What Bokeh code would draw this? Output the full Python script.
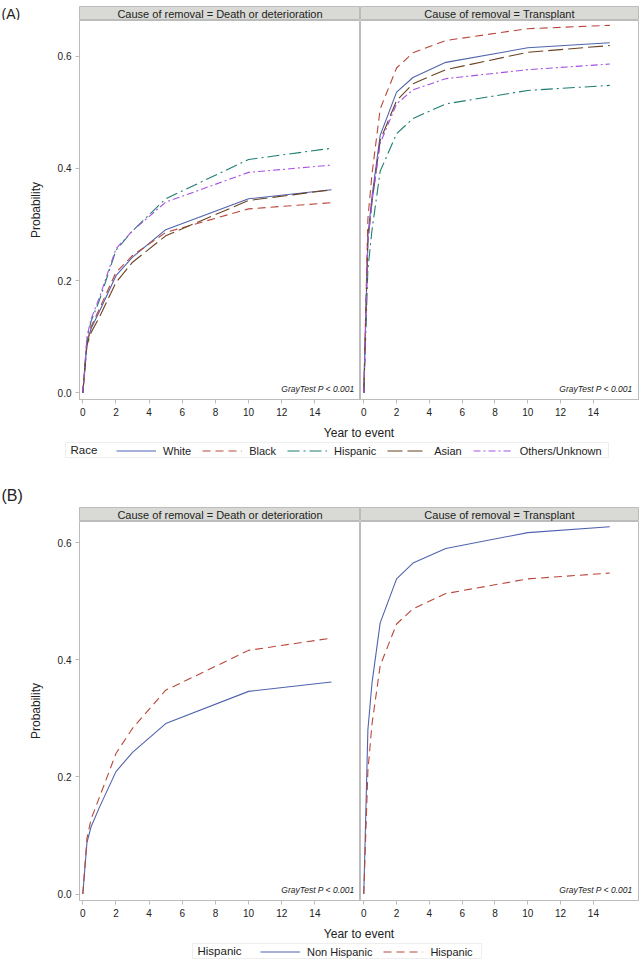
from bokeh.plotting import figure
from bokeh.models import (Range1d, FixedTicker, PrintfTickFormatter, Label, Legend,
                          LegendItem, BoxAnnotation)
from bokeh.layouts import column, row
from bokeh.embed import file_html
from bokeh.resources import INLINE

FONT = "Liberation Sans"
TXT = "#222222"
GRID = "#bcbcbc"
HEAD = "#d9dad5"
NAN = float("nan")

# ---------------- data ----------------
years = [0, 0.25, 0.5, 1, 2, 3, 5, 10, 15]
x_ticks = [0, 2, 4, 6, 8, 10, 12, 14]
y_ticks = [0.0, 0.2, 0.4, 0.6]
panel_titles = ["Cause of removal = Death or deterioration", "Cause of removal = Transplant"]
gray_test = "GrayTest P < 0.001"

race_names = ["White", "Black", "Hispanic", "Asian", "Others/Unknown"]
race_death_white = [0, 0.088, 0.115, 0.145, 0.209, 0.242, 0.291, 0.346, 0.362]
race_death_black = [0, 0.090, 0.118, 0.150, 0.215, 0.245, 0.286, 0.328, 0.339]
race_death_hispanic = [0, 0.095, 0.128, 0.165, 0.254, 0.289, 0.346, 0.416, 0.436]
race_death_asian = [0, 0.085, 0.108, 0.135, 0.197, 0.233, 0.280, 0.343, 0.362]
race_death_others = [0, 0.100, 0.132, 0.170, 0.257, 0.289, 0.340, 0.393, 0.406]

race_tx_white = [0, 0.28, 0.35, 0.459, 0.536, 0.562, 0.589, 0.615, 0.624]
race_tx_black = [0, 0.31, 0.39, 0.506, 0.579, 0.606, 0.628, 0.649, 0.655]
race_tx_hispanic = [0, 0.22, 0.29, 0.395, 0.462, 0.489, 0.515, 0.539, 0.548]
race_tx_asian = [0, 0.27, 0.34, 0.450, 0.521, 0.551, 0.576, 0.607, 0.619]
race_tx_others = [0, 0.27, 0.34, 0.445, 0.515, 0.540, 0.560, 0.576, 0.586]

hisp_names = ["Non Hispanic", "Hispanic"]
hisp_death_non = [0, 0.088, 0.115, 0.148, 0.209, 0.242, 0.291, 0.346, 0.362]
hisp_death_yes = [0, 0.095, 0.128, 0.165, 0.240, 0.283, 0.348, 0.416, 0.437]
hisp_tx_non = [0, 0.28, 0.36, 0.463, 0.538, 0.565, 0.590, 0.617, 0.627]
hisp_tx_yes = [0, 0.21, 0.29, 0.390, 0.461, 0.487, 0.513, 0.538, 0.548]

# styles
race_colors = ["#5063ad", "#b9463b", "#1e7d72", "#6b4221", "#a552e4"]
race_dashes = ["solid", "8 5", "12 4 2 4", "15 5", "7 3 2 3"]
hisp_colors = ["#5063ad", "#b9463b"]
hisp_dashes = ["solid", "8 5"]

X_RANGE = (-0.2, 16.75)
YR_A = (-0.0116, 0.6636)
YR_B = (-0.011, 0.636)
LEFT = 79


def deco(w, h, bg="white"):
    p = figure(width=w, height=h, x_range=Range1d(0, w), y_range=Range1d(0, h),
               x_axis_type=None, y_axis_type=None, toolbar_location=None,
               output_backend="svg", min_border=0)
    p.outline_line_color = None
    p.background_fill_color = bg
    p.border_fill_color = "white"
    return p


def header(w, h, text, top=0, right=0):
    p = figure(width=w, height=h, x_range=Range1d(0, 1), y_range=Range1d(0, 1),
               x_axis_type=None, y_axis_type=None, toolbar_location=None,
               output_backend="svg", min_border=0)
    p.min_border_top = top
    p.min_border_right = right
    p.background_fill_color = HEAD
    p.border_fill_color = "white"
    p.outline_line_color = GRID
    p.add_layout(Label(x=0.5, y=0.5, text=text, text_align="center", text_baseline="middle",
                       text_font=FONT, text_font_size="11px", text_color=TXT))
    return p


def panel(w, frame_h, yr, series, colors, dashes, left_axis, right=0):
    p = figure(width=w, height=frame_h + 24, x_range=Range1d(*X_RANGE), y_range=Range1d(*yr),
               toolbar_location=None, output_backend="svg", min_border=0,
               y_axis_type="linear" if left_axis else None)
    p.min_border_left = LEFT if left_axis else 0
    p.min_border_right = right
    p.min_border_bottom = 24
    p.min_border_top = 0
    p.background_fill_color = "white"
    p.border_fill_color = "white"
    p.outline_line_color = GRID
    p.xgrid.visible = False
    p.ygrid.visible = False
    axes = [p.xaxis[0]] + ([p.yaxis[0]] if left_axis else [])
    for ax in axes:
        ax.axis_line_color = GRID
        ax.major_tick_line_color = GRID
        ax.minor_tick_line_color = None
        ax.major_tick_in = 0
        ax.major_tick_out = 4
        ax.major_label_text_font = FONT
        ax.major_label_text_font_size = "10px"
        ax.major_label_text_color = TXT
        ax.major_label_standoff = 4
    p.xaxis.ticker = FixedTicker(ticks=x_ticks)
    if left_axis:
        p.yaxis.ticker = FixedTicker(ticks=y_ticks)
        p.yaxis.formatter = PrintfTickFormatter(format="%.1f")
        p.yaxis.axis_label = "Probability"
        p.yaxis.axis_label_text_font = FONT
        p.yaxis.axis_label_text_font_size = "12px"
        p.yaxis.axis_label_text_font_style = "normal"
        p.yaxis.axis_label_text_color = TXT
        p.yaxis.axis_label_standoff = 12
    for vals, c, d in zip(series, colors, dashes):
        p.line(years, vals, line_color=c, line_width=1.1, line_dash=d)
    ppu = frame_h / (yr[1] - yr[0])
    p.add_layout(Label(x=X_RANGE[1], y=yr[0] + 11 / ppu, x_offset=-6, text=gray_test,
                       text_align="right", text_baseline="middle", text_font=FONT,
                       text_font_size="8.5px", text_font_style="italic", text_color=TXT))
    return p


def footer(title, names, colors, dashes, box_l, box_r, title_x, leg_x):
    p = deco(641, 37)
    p.add_layout(Label(x=358.5, y=28, text="Year to event", text_align="center",
                       text_baseline="middle", text_font=FONT, text_font_size="12px",
                       text_color=TXT))
    p.add_layout(BoxAnnotation(left=box_l, right=box_r, bottom=3, top=18, fill_alpha=0,
                               line_color="#c8c8c8", line_width=1))
    p.add_layout(Label(x=title_x, y=10.5, text=title, text_align="left", text_baseline="middle",
                       text_font=FONT, text_font_size="11.5px", text_color=TXT))
    items = []
    for n, c, d in zip(names, colors, dashes):
        # legend-only renderer: NaN values draw nothing, the legend shows its style
        r = p.line([NAN, NAN], [NAN, NAN], line_color=c, line_width=1.1, line_dash=d)
        items.append(LegendItem(label=n, renderers=[r]))
    leg = Legend(items=items, orientation="horizontal", location=(leg_x, 3), padding=1,
                 spacing=11, glyph_width=40, glyph_height=13, label_height=13,
                 label_standoff=7, label_text_font=FONT, label_text_font_size="11px",
                 label_text_color=TXT, label_text_baseline="middle",
                 border_line_color=None, background_fill_alpha=0, margin=0)
    p.add_layout(leg, "center")
    return p


# ---------------- group A ----------------
labA = deco(LEFT, 20)
labA.add_layout(Label(x=1, y=10, text="(A)", text_align="left", text_baseline="middle",
                      text_font=FONT, text_font_size="14px", text_color=TXT))
hA1 = header(281, 20, panel_titles[0], top=6)
hA2 = header(281, 20, panel_titles[1], top=6, right=3)
pA1 = panel(LEFT + 281, 379, YR_A,
            [race_death_white, race_death_black, race_death_hispanic, race_death_asian, race_death_others],
            race_colors, race_dashes, True)
pA2 = panel(281, 379, YR_A,
            [race_tx_white, race_tx_black, race_tx_hispanic, race_tx_asian, race_tx_others],
            race_colors, race_dashes, False, right=3)
fA = footer("Race", race_names, race_colors, race_dashes, 65, 608, 70, 116)

# ---------------- group B ----------------
labB = deco(641, 47)
labB.add_layout(Label(x=1, y=12, text="(B)", text_align="left", text_baseline="middle",
                      text_font=FONT, text_font_size="16px", text_color=TXT))
hB0 = deco(LEFT, 14)
hB1 = header(281, 14, panel_titles[0])
hB2 = header(281, 14, panel_titles[1], right=3)
pB1 = panel(LEFT + 281, 379, YR_B, [hisp_death_non, hisp_death_yes], hisp_colors, hisp_dashes, True)
pB2 = panel(281, 379, YR_B, [hisp_tx_non, hisp_tx_yes], hisp_colors, hisp_dashes, False, right=3)
fB = footer("Hispanic", hisp_names, hisp_colors, hisp_dashes, 192, 481, 197, 260)

layout = column(
    row(labA, hA1, hA2, spacing=0),
    row(pA1, pA2, spacing=0),
    fA,
    labB,
    row(hB0, hB1, hB2, spacing=0),
    row(pB1, pB2, spacing=0),
    fB,
    spacing=0,
)

open("out.html", "w").write(file_html(layout, INLINE))
